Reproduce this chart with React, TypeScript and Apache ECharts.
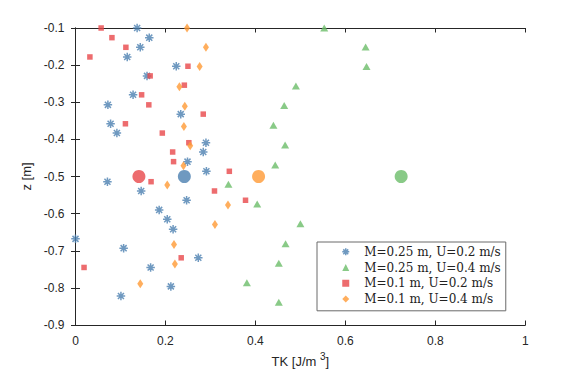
import React, { useEffect, useRef } from "react";
import * as echarts from "echarts";

// Series names (legend order)
const seriesNames = [
  "M=0.25 m, U=0.2 m/s",
  "M=0.25 m, U=0.4 m/s",
  "M=0.1 m, U=0.2 m/s",
  "M=0.1 m, U=0.4 m/s",
];

// M=0.25 m, U=0.2 m/s (blue asterisks)
const blueZ = [-0.1, -0.126, -0.152, -0.178, -0.203, -0.229, -0.28, -0.307, -0.332, -0.358, -0.383, -0.409, -0.434, -0.46, -0.486, -0.514, -0.539, -0.564, -0.59, -0.615, -0.642, -0.668, -0.693, -0.719, -0.745, -0.796, -0.822];
const blueTK = [0.137, 0.164, 0.144, 0.115, 0.224, 0.159, 0.128, 0.072, 0.234, 0.078, 0.092, 0.29, 0.284, 0.249, 0.291, 0.071, 0.146, 0.247, 0.186, 0.204, 0.217, 0.0, 0.107, 0.273, 0.167, 0.212, 0.101];

// M=0.25 m, U=0.4 m/s (green triangles)
const greenZ = [-0.1, -0.151, -0.204, -0.256, -0.309, -0.362, -0.415, -0.469, -0.521, -0.574, -0.627, -0.681, -0.734, -0.786, -0.839];
const greenTK = [0.553, 0.645, 0.647, 0.49, 0.464, 0.44, 0.466, 0.444, 0.34, 0.404, 0.5, 0.467, 0.452, 0.381, 0.452];

// M=0.1 m, U=0.2 m/s (red squares)
const redZ = [-0.1, -0.126, -0.152, -0.178, -0.203, -0.229, -0.254, -0.28, -0.307, -0.332, -0.358, -0.383, -0.409, -0.434, -0.46, -0.486, -0.514, -0.539, -0.564, -0.719, -0.745];
const redTK = [0.057, 0.081, 0.112, 0.032, 0.25, 0.166, 0.242, 0.147, 0.163, 0.284, 0.111, 0.193, 0.252, 0.216, 0.218, 0.342, 0.168, 0.309, 0.378, 0.235, 0.019];

// M=0.1 m, U=0.4 m/s (orange diamonds)
const orangeZ = [-0.1, -0.152, -0.204, -0.258, -0.311, -0.365, -0.417, -0.471, -0.523, -0.577, -0.629, -0.683, -0.736, -0.789];
const orangeTK = [0.248, 0.29, 0.276, 0.231, 0.243, 0.241, 0.255, 0.24, 0.204, 0.339, 0.31, 0.219, 0.221, 0.144];

// Mean values (big circles), same order as seriesNames
const meanTK = [0.242, 0.724, 0.141, 0.407];
const meanZ = [-0.5, -0.5, -0.5, -0.5];

// Axis ticks
const xTicks = [0, 0.2, 0.4, 0.6, 0.8, 1];
const yTicks = [-0.9, -0.8, -0.7, -0.6, -0.5, -0.4, -0.3, -0.2, -0.1];

const colors = ["#4b80b0", "#6bbd69", "#e8474a", "#ff9a35"];
const starPath = "path://M0,-5L0,5M-5,0L5,0M-3.54,-3.54L3.54,3.54M-3.54,3.54L3.54,-3.54";
const symbols = [starPath, "triangle", "rect", "diamond"];
const symbolSizes: any[] = [8.5, [8, 7], 5.5, [6, 9]];

export default function App() {
  const ref = useRef<HTMLDivElement>(null);
  useEffect(() => {
    if (!ref.current) return;
    const chart = echarts.init(ref.current, null, { renderer: "svg" });
    const xs = [blueTK, greenTK, redTK, orangeTK];
    const zs = [blueZ, greenZ, redZ, orangeZ];
    const axisColor = "#262626";
    const tickFont = { fontFamily: "Liberation Sans", fontSize: 12, color: axisColor };
    const xMin = xTicks[0];
    const xMax = xTicks[xTicks.length - 1];
    const xInt = xTicks[1] - xTicks[0];
    const yMin = yTicks[0];
    const yMax = yTicks[yTicks.length - 1];
    const yInt = 0.1;
    const starStyle = { color: "rgba(0,0,0,0)", borderColor: colors[0], borderWidth: 1.5 };
    const series = seriesNames.map((name, i) => {
      const data: any[] = xs[i].map((x, j) => [x, zs[i][j]]);
      data.push({
        value: [meanTK[i], meanZ[i]],
        symbol: "circle",
        symbolSize: 13,
        itemStyle: { color: colors[i], borderWidth: 0 },
      });
      return {
        name,
        type: "scatter",
        clip: false,
        symbol: symbols[i],
        symbolSize: symbolSizes[i],
        itemStyle: i === 0 ? starStyle : { color: colors[i] },
        data,
      };
    });
    const legendData = seriesNames.map((name, i) => ({
      name,
      icon: symbols[i],
      itemStyle: i === 0 ? starStyle : { color: colors[i], borderWidth: 0 },
    }));
    chart.setOption({
      animation: false,
      backgroundColor: "#ffffff",
      grid: { left: 75.5, right: 55.7, top: 28, bottom: 49 },
      legend: {
        orient: "vertical",
        left: 317,
        top: 242,
        padding: [2, 5, 4, 24.5],
        itemWidth: 7,
        itemHeight: 7,
        itemGap: 0,
        borderColor: "#6a6a6a",
        borderWidth: 1,
        backgroundColor: "#ffffff",
        formatter: (n: string) => "{t|" + n + "}",
        textStyle: {
          fontFamily: "DejaVu Serif",
          fontSize: 12,
          color: "#222",
          lineHeight: 15.7,
          rich: { t: { fontFamily: "DejaVu Serif", fontSize: 12, color: "#222", lineHeight: 15.7, padding: [0, 0, 0, 10] } },
        },
        data: legendData,
      },
      xAxis: [
        {
          type: "value",
          min: xMin,
          max: xMax,
          interval: xInt,
          name: "TK [J/m {sup|3}]",
          nameLocation: "middle",
          nameGap: 24,
          nameTextStyle: {
            fontFamily: "Liberation Sans",
            fontSize: 13,
            color: axisColor,
            verticalAlign: "top",
            rich: { sup: { fontSize: 10, padding: [0, 0, 9, 0], fontFamily: "Liberation Sans", color: axisColor } },
          },
          axisLine: { show: true, lineStyle: { color: axisColor, width: 1 } },
          axisTick: { show: true, inside: true, length: 4.5, lineStyle: { color: axisColor } },
          axisLabel: { ...tickFont, margin: 10, formatter: (v: number) => String(+v.toFixed(1)) },
          splitLine: { show: false },
        },
        {
          type: "value",
          position: "top",
          min: xMin,
          max: xMax,
          interval: xInt,
          axisLine: { show: true, lineStyle: { color: axisColor, width: 1 } },
          axisTick: { show: true, inside: true, length: 4.5, lineStyle: { color: axisColor } },
          axisLabel: { show: false },
          splitLine: { show: false },
        },
      ],
      yAxis: [
        {
          type: "value",
          min: yMin,
          max: yMax,
          interval: yInt,
          name: "z [m]",
          nameLocation: "middle",
          nameGap: 37,
          nameTextStyle: { fontFamily: "Liberation Sans", fontSize: 13, color: axisColor },
          axisLine: { show: true, lineStyle: { color: axisColor, width: 1 } },
          axisTick: { show: true, inside: true, length: 4.5, lineStyle: { color: axisColor } },
          axisLabel: { ...tickFont, margin: 11, formatter: (v: number) => v.toFixed(1) },
          splitLine: { show: false },
        },
        {
          type: "value",
          position: "right",
          min: yMin,
          max: yMax,
          interval: yInt,
          axisLine: { show: true, lineStyle: { color: axisColor, width: 1 } },
          axisTick: { show: true, inside: true, length: 4.5, lineStyle: { color: axisColor } },
          axisLabel: { show: false },
          splitLine: { show: false },
        },
      ],
      series,
    });
    return () => chart.dispose();
  }, []);
  return <div ref={ref} style={{ width: 581, height: 374, position: "absolute", left: 0, top: 0 }} />;
}
